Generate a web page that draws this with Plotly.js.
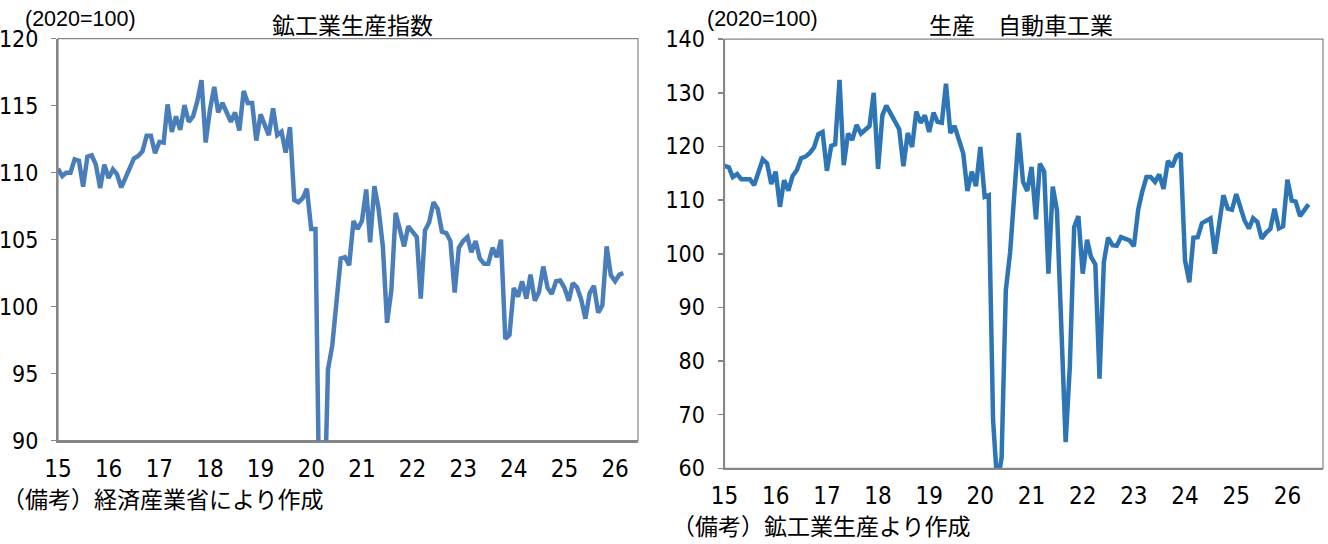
<!DOCTYPE html>
<html>
<head>
<meta charset="utf-8">
<script src="https://cdn.plot.ly/plotly-3.0.1.min.js"></script>
<style>
html,body{margin:0;padding:0;background:#fff;}
#chart{width:1328px;height:544px;}
</style>
</head>
<body>
<div id="chart"></div>
<script>
// ---- Data (monthly, starting January 2015) ----
const startYear = 2015;
const yearLabels = ["15","16","17","18","19","20","21","22","23","24","25","26"];

// 鉱工業生産指数 (2020=100)
const iipValues = [
  110.3,109.75,110.0,110.0,111.0,110.9,108.95,111.2,111.3,110.6,108.85,110.6,
  109.6,110.25,109.9,108.9,109.6,110.3,111.05,111.25,111.6,112.75,112.75,111.45,
  112.3,112.25,115.1,113.05,114.2,113.2,115.05,113.8,114.2,115.3,116.9,112.25,
  114.7,116.4,114.5,115.2,114.4,113.8,114.5,113.15,116.1,115.2,115.2,112.4,
  114.35,113.5,112.8,114.8,112.8,113.05,111.5,113.4,107.95,107.8,108.1,108.8,
  105.8,105.8,84.0,83.0,95.3,97.1,100.3,103.6,103.7,103.1,106.4,105.8,
  106.4,108.75,104.8,109.0,107.3,104.5,98.8,101.2,107.0,105.6,104.5,106.0,
  105.6,105.2,100.6,105.7,106.3,107.8,107.3,105.6,105.5,104.9,101.05,104.4,
  104.9,105.2,104.06,104.9,103.6,103.2,103.2,104.4,103.7,105.0,97.6,97.9,
  101.4,100.75,101.9,100.6,102.4,100.45,101.1,103.0,101.4,100.95,101.9,101.95,
  101.4,100.45,101.75,101.45,100.55,99.1,101.0,101.55,99.55,100.1,104.5,102.36,
  101.9,102.4,102.5
];

// 生産 自動車工業 (2020=100)
const autoValues = [
  116.4,116.1,114.3,114.85,113.9,113.9,113.9,112.8,115.3,117.6,116.85,113.0,
  115.3,108.75,113.7,111.75,114.5,115.6,117.8,118.1,118.8,119.8,122.3,122.7,
  115.45,120.1,120.4,132.4,116.5,122.4,121.2,124.0,122.4,123.0,123.8,130.0,
  115.8,125.8,127.6,126.1,124.6,123.2,116.3,122.5,119.9,126.5,124.4,125.8,
  122.7,126.3,124.6,124.4,131.7,122.5,123.8,121.2,118.7,111.7,115.3,112.6,
  119.9,110.6,110.9,69.0,57.0,62.0,93.2,100.3,111.5,122.5,113.4,111.7,
  116.2,106.4,116.8,115.3,96.3,112.5,108.1,87.0,64.9,79.0,105.0,107.0,
  96.3,102.6,99.4,98.0,76.7,98.5,103.0,101.6,101.5,103.1,102.8,102.5,
  101.4,108.2,111.5,114.3,114.3,113.4,114.8,112.1,117.3,116.2,118.2,118.7,
  98.8,94.7,103.0,103.1,105.7,106.2,106.6,100.0,106.2,110.9,108.4,108.2,
  111.1,108.4,106.2,104.7,106.6,105.9,102.8,103.9,104.6,108.4,104.7,105.1,
  113.8,109.9,109.7,107.0,108.0,109.2
];

function monthDates(n){
  const out = [];
  for(let i=0;i<n;i++){
    const y = startYear + Math.floor(i/12);
    const m = (i%12)+1;
    out.push(y + "-" + (m<10?"0":"") + m + "-01");
  }
  return out;
}
const tickDates = yearLabels.map((s,i)=> (startYear+i) + "-01-01");

const W = 1328, H = 544;
const px = v => v / W;
const py = v => 1 - v / H;

const numFont = "Liberation Sans Narrow, Arial Narrow, DejaVu Sans Condensed, sans-serif";
const jpFont = "Noto Sans CJK JP, sans-serif";
const gray = "#868686";

const traces = [
  {
    x: monthDates(iipValues.length), y: iipValues, type: "scatter", mode: "lines",
    line: {color: "#4A7EBB", width: 4.5}, xaxis: "x", yaxis: "y", hoverinfo: "skip"
  },
  {
    x: monthDates(autoValues.length), y: autoValues, type: "scatter", mode: "lines",
    line: {color: "#2E75B6", width: 4.5}, xaxis: "x2", yaxis: "y2", hoverinfo: "skip"
  }
];

function xAxis(domain, rangeEnd, anchor){
  return {
    domain: domain, anchor: anchor, type: "date",
    range: ["2015-01-01", rangeEnd],
    tickmode: "array", tickvals: tickDates, ticktext: yearLabels,
    ticks: "", showgrid: false, zeroline: false,
    showline: true, linecolor: gray, linewidth: 2,
    tickfont: {family: numFont, size: 24, color: "#000"},
    ticklabelstandoff: 5, automargin: false, fixedrange: true
  };
}
function yAxis(domain, range, dtick, anchor){
  return {
    domain: domain, anchor: anchor, range: range, dtick: dtick, tick0: range[0],
    ticks: "outside", ticklen: 5, tickwidth: 1.5, tickcolor: gray,
    showgrid: false, zeroline: false,
    showline: true, linecolor: gray, linewidth: 2,
    tickfont: {family: numFont, size: 23, color: "#000"},
    ticklabelstandoff: 8, automargin: false, fixedrange: true
  };
}

const layout = {
  width: W, height: H,
  margin: {l: 0, r: 0, t: 0, b: 0},
  paper_bgcolor: "#fff", plot_bgcolor: "#fff",
  showlegend: false,
  xaxis: xAxis([px(58), px(638)], "2026-06-15", "y"),
  yaxis: yAxis([py(440.7), py(38.7)], [90, 120], 5, "x"),
  xaxis2: xAxis([px(724.5), px(1323)], "2026-09-12", "y2"),
  yaxis2: yAxis([py(468.4), py(39.1)], [60, 140], 10, "x2"),
  shapes: [
    {type: "rect", xref: "x domain", yref: "y domain", x0: 0, x1: 1, y0: 0, y1: 1,
     line: {color: gray, width: 1.2}, fillcolor: "rgba(0,0,0,0)", layer: "below"},
    {type: "rect", xref: "x2 domain", yref: "y2 domain", x0: 0, x1: 1, y0: 0, y1: 1,
     line: {color: gray, width: 1.2}, fillcolor: "rgba(0,0,0,0)", layer: "below"}
  ],
  annotations: [
    {text: "鉱工業生産指数", xref: "paper", yref: "paper", x: px(353), y: py(23.5),
     xanchor: "center", yanchor: "middle", showarrow: false,
     font: {family: jpFont, size: 23, color: "#000"}},
    {text: "生産　自動車工業", xref: "paper", yref: "paper", x: px(1021), y: py(23.5),
     xanchor: "center", yanchor: "middle", showarrow: false,
     font: {family: jpFont, size: 23, color: "#000"}},
    {text: "(2020=100)", xref: "paper", yref: "paper", x: px(23), y: py(19),
     xanchor: "left", yanchor: "middle", showarrow: false,
     font: {family: "Liberation Sans, Arial, sans-serif", size: 21.5, color: "#000"}},
    {text: "(2020=100)", xref: "paper", yref: "paper", x: px(705), y: py(19),
     xanchor: "left", yanchor: "middle", showarrow: false,
     font: {family: "Liberation Sans, Arial, sans-serif", size: 21.5, color: "#000"}},
    {text: "（備考）経済産業省により作成", xref: "paper", yref: "paper", x: 0, y: py(498),
     xanchor: "left", yanchor: "middle", showarrow: false,
     font: {family: jpFont, size: 23, color: "#000"}},
    {text: "（備考）鉱工業生産より作成", xref: "paper", yref: "paper", x: px(670), y: 0,
     xanchor: "left", yanchor: "bottom", showarrow: false,
     font: {family: jpFont, size: 23, color: "#000"}}
  ]
};

Plotly.newPlot("chart", traces, layout, {displayModeBar: false, staticPlot: true});
</script>
</body>
</html>
